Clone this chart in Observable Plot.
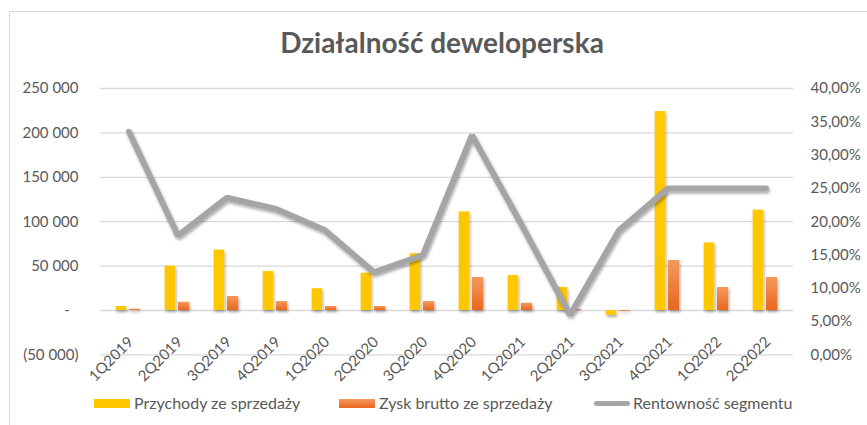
<!DOCTYPE html>
<html>
<head>
<meta charset="utf-8">
<script src="https://cdn.jsdelivr.net/npm/d3@7"></script>
<script src="https://cdn.jsdelivr.net/npm/@observablehq/plot@0.6"></script>
<style>
  body { margin: 0; background: #fff; font-family: Lato, "Open Sans", sans-serif; }
  #wrap { position: relative; width: 867px; height: 425px; overflow: hidden; background: #fff; }
  #frame { position: absolute; left: 9px; top: 11px; width: 900px; height: 500px;
           border-left: 1.5px solid #d9d9d9; border-top: 1.5px solid #d9d9d9; pointer-events: none; }
  #title { box-sizing: border-box; height: 72px; padding-top: 28px; padding-left: 17px;
           text-align: center; font: bold 28px/28px Lato, sans-serif; color: #595959; }
  #legend { position: absolute; left: 0; top: 390px; width: 867px; height: 35px;
            font: 16px/26px Lato, sans-serif; color: #595959; }
  .item { position: absolute; top: 0; height: 26px; white-space: nowrap; }
  .sw { position: absolute; top: 9px; width: 36px; height: 9px; }
  .lab { position: absolute; top: 0; }
</style>
</head>
<body>
<div id="wrap">
  <div id="frame"></div>
  <div id="title">Działalność deweloperska</div>
  <div id="chart"></div>
  <div id="legend"></div>
</div>
<script>
const categories = ["1Q2019","2Q2019","3Q2019","4Q2019","1Q2020","2Q2020","3Q2020","4Q2020","1Q2021","2Q2021","3Q2021","4Q2021","1Q2022","2Q2022"];
const przychody = [4500, 50000, 68000, 44000, 24500, 42000, 64000, 111000, 39500, 26000, -5500, 224000, 76000, 113000];
const zysk = [1500, 9300, 15800, 10100, 4500, 4500, 10100, 37200, 8200, 1000, -1000, 56300, 25900, 37200];
const rentownosc = [33.5, 17.9, 23.6, 21.9, 18.7, 12.4, 15.0, 33.0, 19.7, 6.0, 18.7, 25.0, 25.0, 25.0];
const leftTicks = [-50000, 0, 50000, 100000, 150000, 200000, 250000];
const rightTicks = [0, 5, 10, 15, 20, 25, 30, 35, 40];
const seriesNames = ["Przychody ze sprzedaży", "Zysk brutto ze sprzedaży", "Rentowność segmentu"];

// right axis (percent) is mapped onto the left value axis: 0% -> -50 000, 40% -> 250 000
const yMin = -50000, yMax = 250000, pMax = 40;
const toLeft = p => yMin + p * (yMax - yMin) / pMax;
const toPct = v => (v - yMin) * pMax / (yMax - yMin);

const rows = categories.map((c, i) => ({kw: c, p: przychody[i], z: zysk[i], r: rentownosc[i]}));

const num = v => d3.format(",")(v).replace(/,/g, " ");
const fmtL = v => v === 0 ? "-\u2007" : v < 0 ? `(${num(-v)})` : num(v);
const fmtR = v => toPct(v).toFixed(2).replace(".", ",") + "%";

const defs = () => {
  const svg = d3.create("svg:defs");
  const g = svg.append("linearGradient").attr("id", "og").attr("x1", 0).attr("y1", 0).attr("x2", 0).attr("y2", 1);
  g.append("stop").attr("offset", "0%").attr("stop-color", "#F5995F");
  g.append("stop").attr("offset", "100%").attr("stop-color", "#E8671C");
  const f = svg.append("filter").attr("id", "sh").attr("x", "-50%").attr("y", "-50%").attr("width", "200%").attr("height", "200%");
  f.append("feDropShadow").attr("dx", 1).attr("dy", 2).attr("stdDeviation", 1.5)
    .attr("flood-color", "#000").attr("flood-opacity", 0.35);
  return svg.node();
};

const chart = Plot.plot({
  width: 867,
  height: 318,
  marginTop: 16,
  marginBottom: 35.6,
  marginLeft: 100,
  marginRight: 74,
  style: {fontFamily: "Lato, sans-serif", fontSize: "15px", color: "#595959", background: "transparent", overflow: "visible"},
  x: {type: "band", domain: categories, padding: 0, axis: null},
  y: {domain: [yMin, yMax], axis: null},
  marks: [
    defs,
    Plot.gridY({ticks: leftTicks, stroke: "#d9d9d9", strokeOpacity: 1, strokeWidth: 1.3}),
    Plot.barY(rows, {x: "kw", y: "p", fill: "#FFC700", insetLeft: 11.7, insetRight: 26.8}),
    Plot.barY(rows, {x: "kw", y: "z", fill: "url(#og)", insetLeft: 25, insetRight: 12.8}),
    Plot.line(rows, {x: "kw", y: d => toLeft(d.r), stroke: "#A5A5A5", strokeWidth: 6,
                     strokeLinejoin: "miter", strokeLinecap: "round"}),
    Plot.text(rows, {x: "kw", y: () => 0, text: "kw", rotate: -45, textAnchor: "end",
                     dx: 2, dy: 29, fill: "#595959", fontSize: 15}),
    Plot.axisY({anchor: "left", ticks: leftTicks, tickFormat: fmtL, tickSize: 0, tickPadding: 22, label: null, fontSize: 15}),
    Plot.axisY({anchor: "right", ticks: rightTicks.map(toLeft), tickFormat: fmtR, tickSize: 0, tickPadding: 17, label: null, fontSize: 15})
  ]
});

d3.select(chart).selectAll('g[aria-label="bar"], g[aria-label="line"]').attr("filter", "url(#sh)");
document.getElementById("chart").appendChild(chart);

// legend
const legend = d3.select("#legend");
const items = [
  {name: seriesNames[0], left: 94, kind: "rect", fill: "#FFC700"},
  {name: seriesNames[1], left: 339, kind: "rect", fill: "linear-gradient(#F5995F, #E8671C)"},
  {name: seriesNames[2], left: 594, kind: "line", fill: "#A5A5A5"}
];
items.forEach(it => {
  const d = legend.append("div").attr("class", "item").style("left", it.left + "px");
  if (it.kind === "rect") {
    d.append("div").attr("class", "sw").style("left", "0px").style("background", it.fill);
    d.append("div").attr("class", "lab").style("left", "40px").text(it.name);
  } else {
    d.append("div").attr("class", "sw").style("left", "0px").style("top", "10.5px").style("width", "36px")
      .style("height", "5px").style("border-radius", "3px").style("background", it.fill);
    d.append("div").attr("class", "lab").style("left", "39px").text(it.name);
  }
});
</script>
</body>
</html>
